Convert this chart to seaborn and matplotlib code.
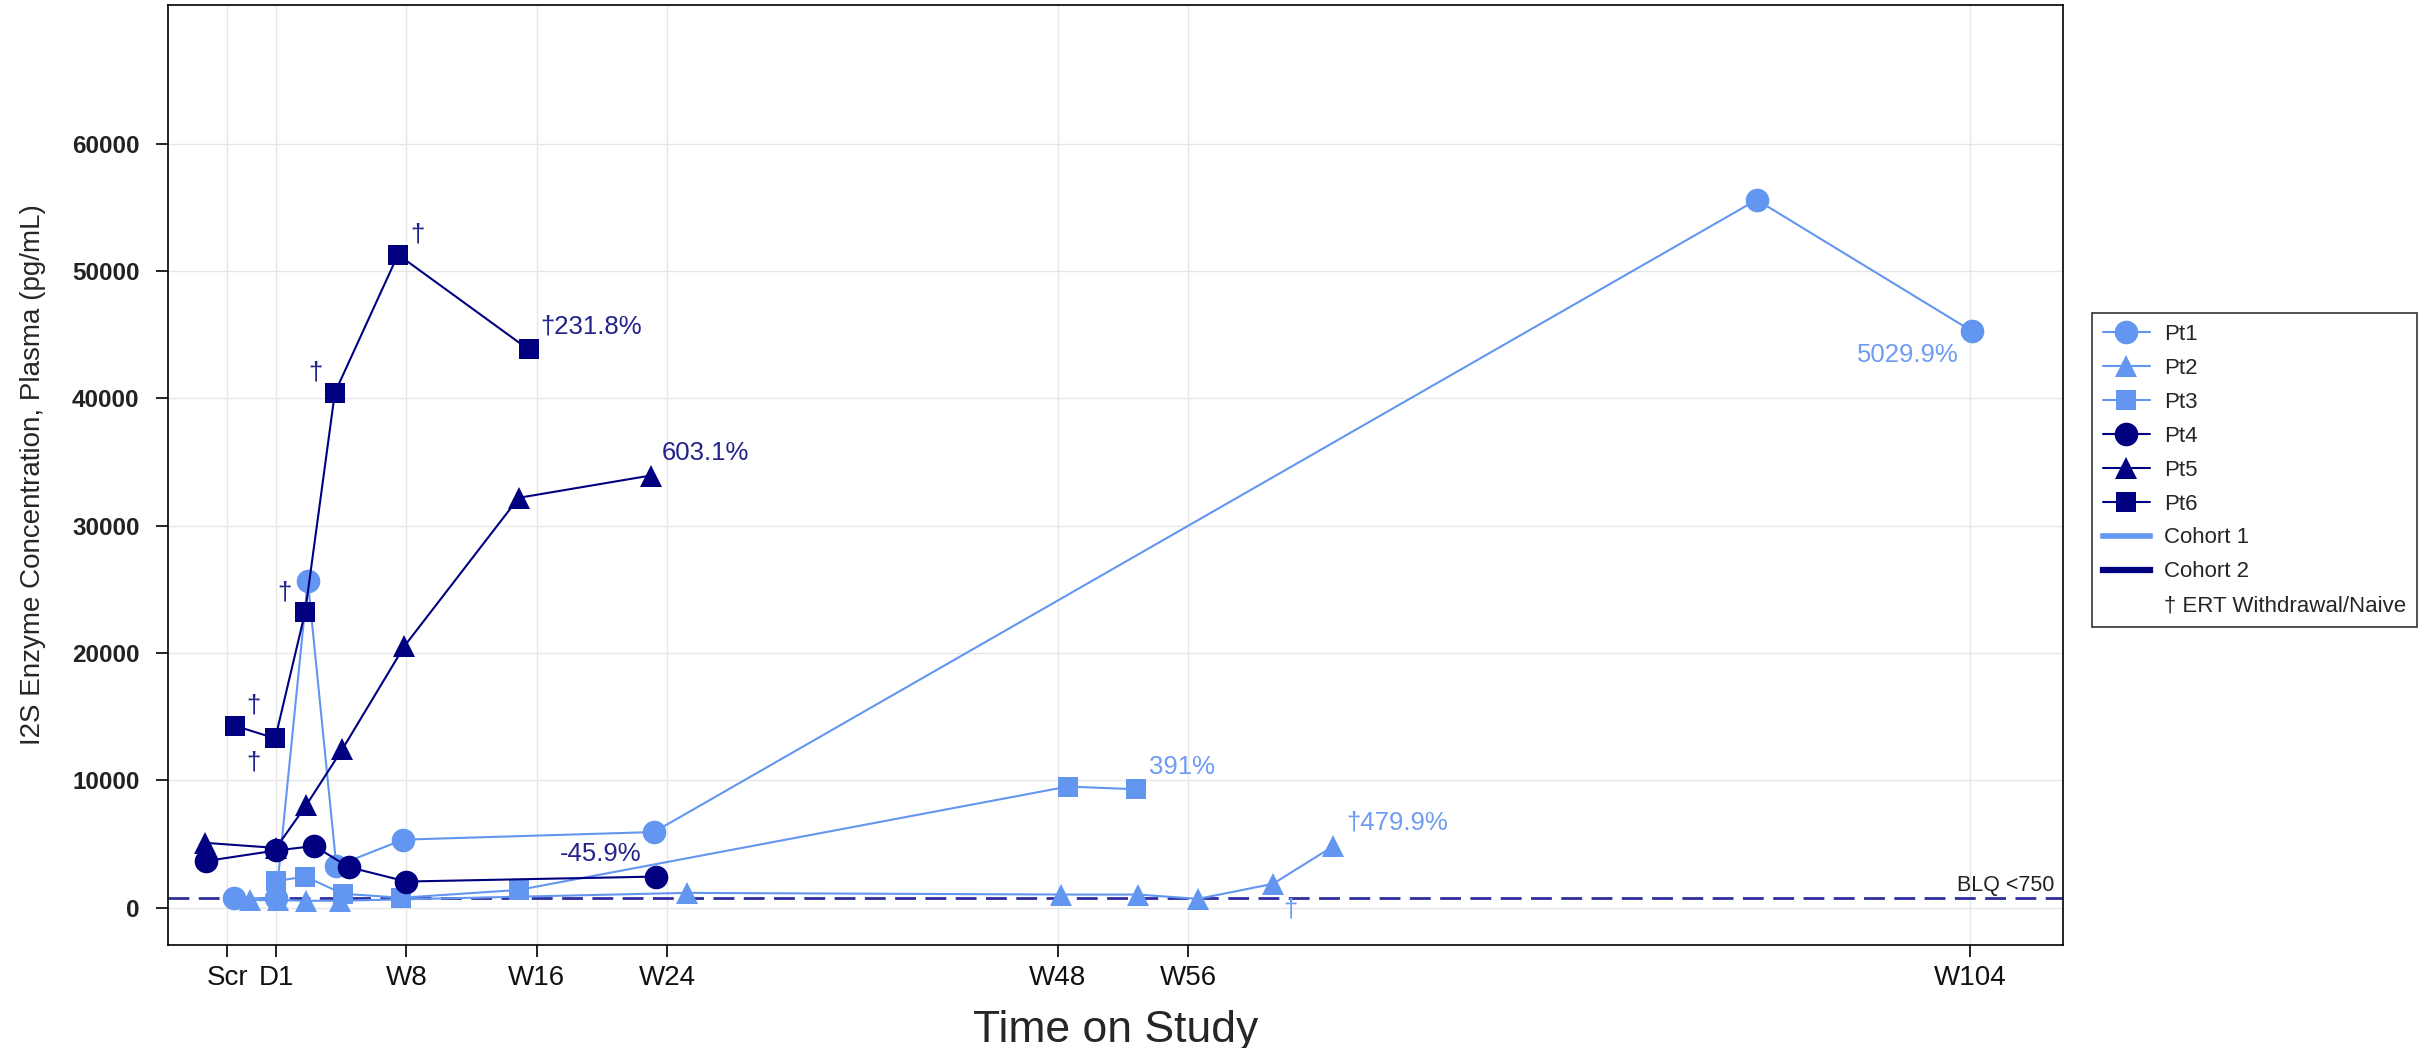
# -*- coding: utf-8 -*-
"""
I2S enzyme concentration (plasma) per patient over time on study.
Cohort 1 = Pt1-Pt3 (light blue), Cohort 2 = Pt4-Pt6 (navy).
x is weeks on study (D1 = 0, Scr ~ -3).
"""
import pandas as pd
import matplotlib
matplotlib.use('Agg')
import matplotlib.pyplot as plt
import seaborn as sns
from matplotlib.lines import Line2D

# ---- data: weeks on study / pg/mL ----
pt1_week = [-2.6, 0.0, 1.95, 3.7, 7.8, 23.2, 90.9, 104.1]
pt1_conc = [750, 750, 25700, 3280, 5350, 5950, 55600, 45300]

pt2_week = [-1.6, 0.1, 1.85, 3.9, 25.2, 48.2, 52.9, 56.6, 61.2, 64.9]
pt2_conc = [600, 600, 550, 550, 1170, 1040, 1040, 700, 1880, 4830]

pt3_week = [0.0, 1.8, 4.1, 7.7, 14.9, 48.6, 52.8]
pt3_conc = [2100, 2450, 1100, 790, 1400, 9520, 9310]

pt4_week = [-4.3, 0.0, 2.35, 4.45, 8.0, 23.3]
pt4_conc = [3670, 4500, 4850, 3200, 2060, 2450]

pt5_week = [-4.35, 0.0, 1.85, 4.07, 7.88, 14.9, 23.0]
pt5_conc = [5100, 4700, 8050, 12450, 20550, 32200, 33950]

pt6_week = [-2.53, -0.05, 1.79, 3.61, 7.49, 15.5]
pt6_conc = [14300, 13300, 23250, 40450, 51300, 43850]

blq = 750

x_ticks = [-3, 0, 8, 16, 24, 48, 56, 104]
x_labels = ['Scr', 'D1', 'W8', 'W16', 'W24', 'W48', 'W56', 'W104']
y_ticks = [0, 10000, 20000, 30000, 40000, 50000, 60000]

# percent-change / ERT withdrawal notes: (week, conc, text, cohort, ha)
notes = [
    (-1.4, 15900, '†', 2, 'center'),
    (-1.4, 11400, '†', 2, 'center'),
    (0.5, 24800, '†', 2, 'center'),
    (2.4, 42050, '†', 2, 'center'),
    (8.7, 52900, '†', 2, 'center'),
    (16.2, 45680, '†231.8%', 2, 'left'),
    (23.7, 35700, '603.1%', 2, 'left'),
    (19.9, 4190, '-45.9%', 2, 'center'),
    (53.6, 11090, '391%', 1, 'left'),
    (65.7, 6710, '†479.9%', 1, 'left'),
    (62.3, -130, '†', 1, 'center'),
    (103.3, 43390, '5029.9%', 1, 'right'),
]

C1 = '#6396F0'
C2 = '#000080'
TXT = {1: '#6E9CF2', 2: '#23238C'}
BLQ_COLOR = '#2E2E9E'

sns.set_style('white')
plt.rcParams['font.family'] = ['Liberation Sans', 'DejaVu Sans']

patients = [
    ('Pt1', pt1_week, pt1_conc, C1, 'o', 17),
    ('Pt2', pt2_week, pt2_conc, C1, '^', 15.5),
    ('Pt3', pt3_week, pt3_conc, C1, 's', 14),
    ('Pt4', pt4_week, pt4_conc, C2, 'o', 17),
    ('Pt5', pt5_week, pt5_conc, C2, '^', 15.5),
    ('Pt6', pt6_week, pt6_conc, C2, 's', 14),
]

fig = plt.figure(figsize=(24.25, 10.48), dpi=100)
ax = fig.add_axes([0.0693, 0.0983, 0.7814, 0.8969])

for name, weeks, conc, color, marker, ms in patients:
    d = pd.DataFrame({'week': weeks, 'conc': conc})
    sns.lineplot(data=d, x='week', y='conc', ax=ax, color=color,
                 marker=marker, markersize=ms, markeredgewidth=0,
                 linewidth=1.5, estimator=None, sort=False, legend=False,
                 zorder=3)

# BLQ reference line
ax.axhline(blq, color=BLQ_COLOR, lw=2.0, ls=(0, (7.5, 3.4)), zorder=2)
ax.text(109.15, 1310, 'BLQ <750', ha='right', va='baseline',
        fontsize=15.5, color='#222222')

for wk, val, txt, coh, ha in notes:
    ax.text(wk, val, txt, ha=ha, va='center', fontsize=18.5,
            color=TXT[coh], zorder=4)

ax.set_xlim(-6.63, 109.7)
ax.set_ylim(-2922, 70902)
ax.set_xticks(x_ticks)
ax.set_xticklabels(x_labels)
ax.set_yticks(y_ticks)
ax.set_yticklabels([str(v) for v in y_ticks])

ax.grid(True, color='#E6E6E6', lw=1.0)
ax.set_axisbelow(True)
for sp in ax.spines.values():
    sp.set_visible(True)
    sp.set_color('black')
    sp.set_linewidth(1.2)

ax.tick_params(axis='both', direction='out', length=8.5, width=1.2,
               color='black', bottom=True, left=True, pad=6)
ax.tick_params(axis='x', labelsize=20, labelcolor='#111111')
ax.tick_params(axis='y', labelsize=17.5, labelcolor='#222222', pad=12)
for lbl in ax.get_yticklabels():
    lbl.set_fontweight('bold')

ax.set_xlabel('Time on Study', fontsize=32)
ax.xaxis.set_label_coords(0.5, -0.069)
ax.set_ylabel('I2S Enzyme Concentration, Plasma (pg/mL)', fontsize=20)
ax.yaxis.set_label_coords(-0.0645, 0.5)

# legend
handles = [Line2D([], [], color=c, marker=m, markersize=ms,
                  markeredgewidth=0, lw=1.5)
           for _, _, _, c, m, ms in patients]
handles += [Line2D([], [], color=C1, lw=4.0, solid_capstyle='projecting'),
            Line2D([], [], color=C2, lw=4.5, solid_capstyle='projecting'),
            Line2D([], [], color='none')]
labels = [p[0] for p in patients] + ['Cohort 1', 'Cohort 2',
                                     '† ERT Withdrawal/Naive']
leg = fig.legend(handles, labels, loc='upper left',
                 bbox_to_anchor=(2092 / 2425, 1 - 313 / 1048),
                 bbox_transform=fig.transFigure, frameon=True,
                 fancybox=False, edgecolor='black', fontsize=16,
                 handlelength=2.1, handletextpad=0.65, labelspacing=0.58,
                 borderpad=0.5, borderaxespad=0)
leg.get_frame().set_linewidth(1.2)

fig.savefig('out.png', dpi=100)
plt.close(fig)
